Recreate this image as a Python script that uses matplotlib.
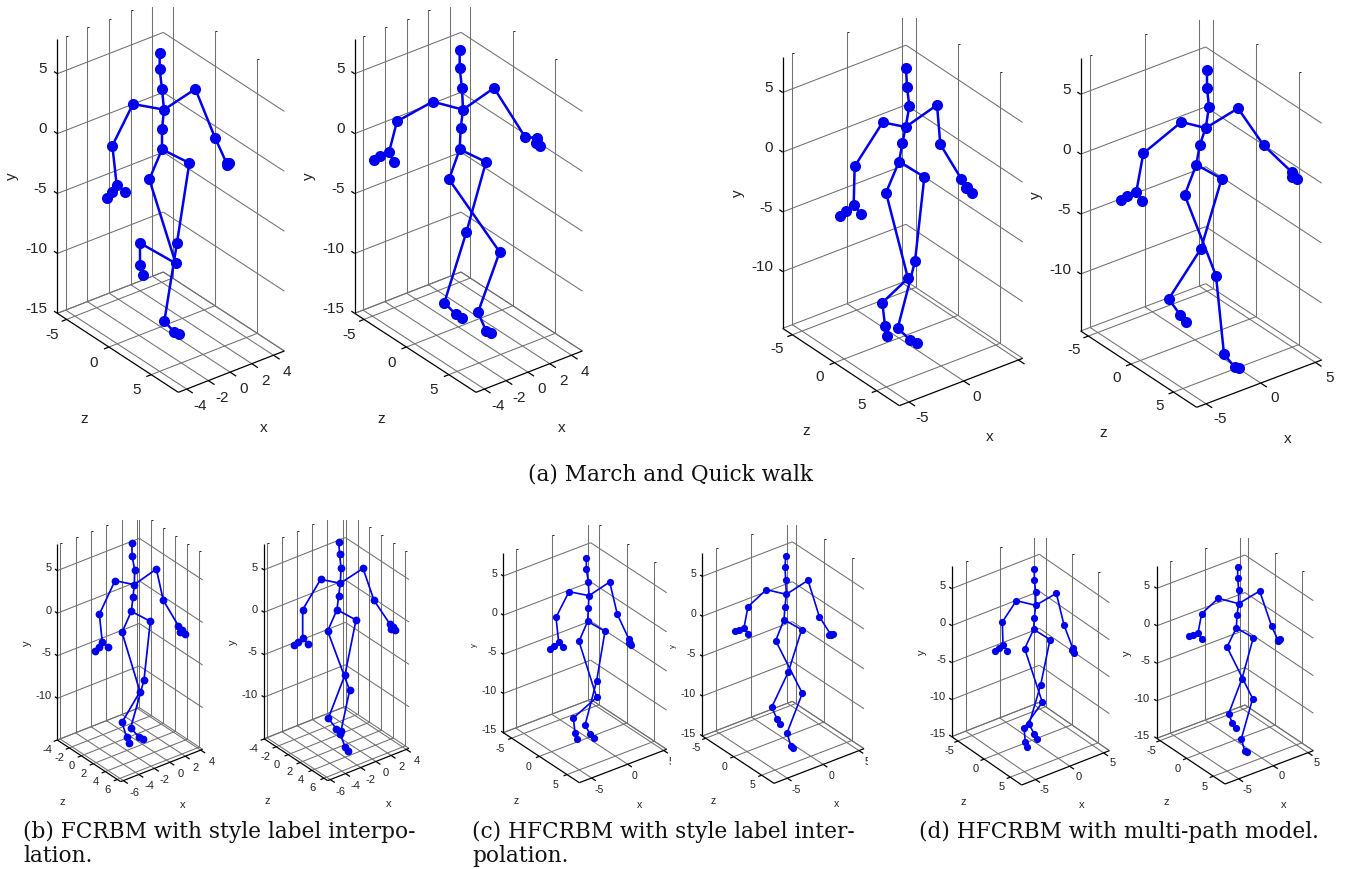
import matplotlib
matplotlib.use("Agg")
import matplotlib.pyplot as plt

plt.rcParams["font.family"] = ["Liberation Sans", "DejaVu Sans"]

W, H = 1348, 869

# skeleton joints, in 3x crop units of each panel
# head 3, chest, spine, pelvis, left arm 6, right arm 6, left leg 5, right leg 5
sk1_x = [479,479,486,492,486,486, 399,337,350,337,322,375, 586,645,680,687,680,684, 448,527,420,420,430, 568,531,493,522,538]
sk1_y = [159,208,267,329,388,448, 312,437,554,576,593,575, 267,413,490,488,496,492, 538,790,729,795,825, 489,728,964,995,1002]
sk2_x = [479,479,486,489,482,479, 398,291,267,241,221,281, 582,676,711,709,719,712, 447,599,534,558,572, 558,499,433,467,485]
sk2_y = [149,205,264,329,385,448, 305,364,457,467,479,486, 264,412,413,430,437,425, 538,756,937,992,998, 486,697,908,943,955]
sk3_x = [558,561,568,557,547,537, 488,404,401,377,360,423, 651,661,724,741,755,737, 498,564,487,495,502, 613,585,533,571,590]
sk3_y = [205,260,319,381,430,485, 367,499,616,634,648,641, 315,433,537,560,578,565, 578,835,908,977,1009, 531,784,985,1020,1030]
sk4_x = [561,561,567,557,539,529, 484,370,349,321,303,367, 654,731,815,820,831,815, 494,588,612,645,658, 605,543,446,481,498]
sk4_y = [210,263,321,384,436,494, 366,460,575,588,600,602, 325,436,516,525,537,530, 585,827,1063,1102,1105, 536,746,897,945,967]
sk5_x = [396,396,404,403,399,394, 345,298,307,296,284,323, 469,490,535,545,555,540, 366,420,366,380,388, 451,432,392,416,430]
sk5_y = [99,137,179,224,261,304, 212,313,397,411,423,412, 177,271,347,360,372,365, 367,545,637,682,698, 334,510,654,680,688]
sk6_x = [371,374,378,376,371,366, 317,263,263,249,237,278, 444,477,524,535,541,529, 338,404,376,390,399, 423,390,340,364,377]
sk6_y = [95,133,175,220,257,299, 208,299,384,395,405,401, 175,271,341,352,360,357, 363,541,672,711,722, 330,494,625,656,664]
sk7_x = [409,409,415,417,415,413, 357,318,326,313,301,340, 479,502,536,540,544,538, 387,440,370,375,381, 465,440,405,421,433]
sk7_y = [144,177,216,257,295,334, 245,322,396,407,417,412, 216,313,386,398,406,400, 394,562,624,668,687, 364,512,646,673,685]
sk8_x = [362,360,362,364,360,357, 304,249,237,222,209,249, 429,463,497,503,492,498, 332,412,366,378,385, 410,370,320,336,346]
sk8_y = [139,172,211,253,290,329, 239,290,353,360,364,371, 211,320,373,373,375,374, 392,550,669,709,714, 359,486,592,626,641]
sk9_x = [403,403,407,407,403,401, 349,307,309,296,285,322, 469,492,518,518,522,516, 374,427,372,376,381, 450,422,387,403,411]
sk9_y = [177,210,245,286,323,358, 272,336,405,414,424,422, 250,345,414,424,430,420, 416,577,654,696,710, 389,525,643,672,686]
sk10_x = [383,383,386,386,381,379, 325,275,264,248,237,275, 449,485,504,510,503,508, 351,428,394,404,410, 430,396,356,367,377]
sk10_y = [170,204,239,281,316,354, 265,311,369,376,378,387, 243,349,390,388,392,391, 411,566,686,722,726, 383,506,611,640,655]

bones = [[0,1,2,3,4,5], [3,6,7,8,9,10], [8,11], [3,12,13,14,15,16], [14,17],
         [5,18,19,20,21,22], [5,23,24,25,26,27]]

# axis ticks
ticks_five = [-5, 0, 5]
ticks_two = [-4, -2, 0, 2, 4]
ticks_two_wide = [-6, -4, -2, 0, 2, 4]
ticks_z_wide = [-4, -2, 0, 2, 4, 6]
ticks_y_all = [-15, -10, -5, 0, 5]
ticks_y_short = [-10, -5, 0, 5]

panels = [
    dict(sk=(sk1_x, sk1_y), ox=0, oy=0, wd=990, ht=1350, clip=20, L=(172,940), top=117, F=(535,1177), R=(853,1053),
         xlim=(-4.77,5.0), zlim=(-6.1,8.2), ylim=(-15,7.9), xt=ticks_two, zt=ticks_five, yt=ticks_y_all, xshow=ticks_two,
         zoff=(-45,47), xoff=(40,51), yoff=(-30,-13), ylab=(35,530), zlab=(252,1258), xlab=(792,1285), fs=11, lfs=11, yfs=11, ms=8, lw=1.8),
    dict(sk=(sk2_x, sk2_y), ox=300, oy=0, wd=990, ht=1350, clip=20, L=(164,940), top=117, F=(528,1177), R=(847,1053),
         xlim=(-4.77,5.0), zlim=(-6.1,8.2), ylim=(-15,7.9), xt=ticks_two, zt=ticks_five, yt=ticks_y_all, xshow=ticks_two,
         zoff=(-45,47), xoff=(40,51), yoff=(-30,-13), ylab=(27,530), zlab=(245,1258), xlab=(785,1285), fs=11, lfs=11, yfs=11, ms=8, lw=1.8),
    dict(sk=(sk3_x, sk3_y), ox=720, oy=0, wd=990, ht=1350, clip=55, L=(188,985), top=170, F=(538,1217), R=(908,1075),
         xlim=(-5.88,5.39), zlim=(-6.15,7.68), ylim=(-14.75,8.0), xt=ticks_five, zt=ticks_five, yt=ticks_y_short, xshow=[-5,0],
         zoff=(-46,42), xoff=(40,47), yoff=(-28,-13), ylab=(55,580), zlab=(258,1292), xlab=(808,1312), fs=11, lfs=11, yfs=11, ms=8, lw=1.8),
    dict(sk=(sk4_x, sk4_y), ox=1020, oy=0, wd=984, ht=1350, clip=60, L=(182,993), top=175, F=(530,1222), R=(905,1080),
         xlim=(-5.86,5.58), zlim=(-5.9,7.72), ylim=(-14.76,8.0), xt=ticks_five, zt=ticks_five, yt=ticks_y_short, xshow=ticks_five,
         zoff=(-43,43), xoff=(42,46), yoff=(-28,-13), ylab=(47,585), zlab=(250,1298), xlab=(802,1318), fs=11, lfs=11, yfs=11, ms=8, lw=1.8),
    dict(sk=(sk5_x, sk5_y), ox=0, oy=510, wd=675, ht=930, clip=30, L=(172,690), top=103, F=(362,815), R=(608,718),
         xlim=(-6.35,4.25), zlim=(-4.0,6.56), ylim=(-14.9,8.09), xt=ticks_two_wide, zt=ticks_z_wide, yt=ticks_y_short, xshow=ticks_two_wide,
         zoff=(-30,31), xoff=(32,36), yoff=(-17,-7), ylab=(80,400), zlab=(187,877), xlab=(548,885), fs=8, lfs=8, yfs=8, ms=5.6, lw=1.25),
    dict(sk=(sk6_x, sk6_y), ox=215, oy=510, wd=675, ht=930, clip=30, L=(147,686), top=101, F=(338,812), R=(582,715),
         xlim=(-6.35,4.35), zlim=(-4.05,6.62), ylim=(-14.9,8.09), xt=ticks_two_wide, zt=ticks_z_wide, yt=ticks_y_short, xshow=ticks_two_wide,
         zoff=(-33,30), xoff=(30,36), yoff=(-19,-7), ylab=(55,398), zlab=(157,873), xlab=(520,882), fs=8, lfs=8, yfs=8, ms=5.6, lw=1.25),
    dict(sk=(sk7_x, sk7_y), ox=450, oy=510, wd=664, ht=930, clip=45, L=(160,668), top=130, F=(388,818), R=(650,718),
         xlim=(-6.7,5.41), zlim=(-6.51,7.23), ylim=(-15,7.9), xt=ticks_five, zt=ticks_five, yt=ticks_y_all, xshow=ticks_five,
         zoff=(-33,32), xoff=(22,35), yoff=(-19,-7), ylab=(72,405), zlab=(198,873), xlab=(568,885), fs=7.6, lfs=7.6, yfs=5.5, ms=5.2, lw=1.2),
    dict(sk=(sk8_x, sk8_y), ox=665, oy=510, wd=610, ht=930, clip=45, L=(112,678), top=130, F=(327,820), R=(597,716),
         xlim=(-6.86,5.70), zlim=(-5.6,7.2), ylim=(-15,7.9), xt=ticks_five, zt=ticks_five, yt=ticks_y_all, xshow=ticks_five,
         zoff=(-29,30), xoff=(26,34), yoff=(-19,-7), ylab=(25,408), zlab=(146,873), xlab=(513,882), fs=7.6, lfs=7.6, yfs=5.5, ms=5.2, lw=1.2),
    dict(sk=(sk9_x, sk9_y), ox=900, oy=510, wd=675, ht=930, clip=85, L=(155,680), top=168, F=(365,825), R=(628,722),
         xlim=(-7.06,5.84), zlim=(-6.2,7.17), ylim=(-15,8.06), xt=ticks_five, zt=ticks_five, yt=ticks_y_all, xshow=ticks_five,
         zoff=(-26,30), xoff=(27,31), yoff=(-17,-7), ylab=(65,428), zlab=(191,877), xlab=(545,885), fs=8, lfs=8, yfs=8, ms=5.2, lw=1.2),
    dict(sk=(sk10_x, sk10_y), ox=1110, oy=510, wd=675, ht=930, clip=85, L=(140,685), top=168, F=(345,822), R=(610,722),
         xlim=(-6.97,5.76), zlim=(-5.63,7.19), ylim=(-15,7.98), xt=ticks_five, zt=ticks_five, yt=ticks_y_all, xshow=ticks_five,
         zoff=(-27,31), xoff=(25,32), yoff=(-20,-7), ylab=(52,430), zlab=(170,877), xlab=(520,885), fs=8, lfs=8, yfs=8, ms=5.2, lw=1.2),
]

fig = plt.figure(figsize=(W / 100, H / 100), dpi=100)
fig.patch.set_facecolor("white")

grid_col = "#707070"
text_col = "#222222"


def draw_panel(p):
    left = p["ox"] / W
    bottom = 1 - (p["oy"] + p["ht"] / 3) / H
    height = (p["ht"] - p["clip"]) / 3 / H
    ax = fig.add_axes([left, bottom, p["wd"] / 3 / W, height])
    ax.set_xlim(0, p["wd"])
    ax.set_ylim(p["ht"], p["clip"])
    ax.axis("off")
    ax.patch.set_alpha(0)

    Lx, Ly = p["L"]
    Fx, Fy = p["F"]
    Rx, Ry = p["R"]
    zvec = (Fx - Lx, Fy - Ly)
    xvec = (Rx - Fx, Ry - Fy)
    xlo, xhi = p["xlim"]
    zlo, zhi = p["zlim"]
    ylo, yhi = p["ylim"]
    tall = Ly - p["top"]

    def proj(x, y, z):
        fx = (x - xlo) / (xhi - xlo)
        fz = (z - zlo) / (zhi - zlo)
        fy = (y - ylo) / (yhi - ylo)
        return Lx + fx * xvec[0] + fz * zvec[0], Ly + fx * xvec[1] + fz * zvec[1] - fy * tall

    def seg(a, b, **kw):
        ax.plot([a[0], b[0]], [a[1], b[1]], solid_capstyle="butt", **kw)

    thin = dict(color=grid_col, lw=0.75, zorder=1)
    # walls and floor
    for y in p["yt"]:
        seg(proj(xlo, y, zlo), proj(xhi, y, zlo), **thin)
        seg(proj(xhi, y, zlo), proj(xhi, y, zhi), **thin)
    seg(proj(xlo, ylo, zlo), proj(xhi, ylo, zlo), **thin)
    seg(proj(xhi, ylo, zlo), proj(xhi, ylo, zhi), **thin)
    for x in p["xt"]:
        seg(proj(x, ylo, zlo), proj(x, yhi, zlo), **thin)
        seg(proj(x, ylo, zlo), proj(x, ylo, zhi), **thin)
        t = proj(x, yhi, zlo)
        seg(t, (t[0] + 6, t[1]), color="black", lw=0.6, zorder=1)
    for z in p["zt"]:
        seg(proj(xhi, ylo, z), proj(xhi, yhi, z), **thin)
        seg(proj(xlo, ylo, z), proj(xhi, ylo, z), **thin)
        t = proj(xhi, yhi, z)
        seg(t, (t[0] + 6, t[1]), color="black", lw=0.6, zorder=1)

    # black axes
    dark = dict(color="black", lw=0.9, zorder=2)
    seg((Lx, Ly), (Lx, p["top"]), **dark)
    seg((Lx, Ly), (Fx, Fy), **dark)
    seg((Fx, Fy), (Rx, Ry), **dark)

    zlen = (zvec[0] ** 2 + zvec[1] ** 2) ** 0.5
    xlen = (xvec[0] ** 2 + xvec[1] ** 2) ** 0.5
    scale = p["fs"] / 11
    txt = dict(color=text_col, ha="center", va="center", clip_on=True)
    for y in p["yt"]:
        a = proj(xlo, y, zlo)
        seg(a, (a[0] - 12 * scale * zvec[0] / zlen, a[1] - 12 * scale * zvec[1] / zlen), **dark)
        ax.text(a[0] + p["yoff"][0], a[1] + p["yoff"][1], str(y), fontsize=p["fs"], color=text_col, ha="right", va="center")
    for z in p["zt"]:
        a = proj(xlo, ylo, z)
        seg(a, (a[0] - 16 * scale * xvec[0] / xlen, a[1] - 16 * scale * xvec[1] / xlen), **dark)
        ax.text(a[0] + p["zoff"][0], a[1] + p["zoff"][1], str(z), fontsize=p["fs"], **txt)
    for x in p["xt"]:
        a = proj(x, ylo, zhi)
        seg(a, (a[0] + 22 * scale * zvec[0] / zlen, a[1] + 22 * scale * zvec[1] / zlen), **dark)
        if x in p["xshow"]:
            ax.text(a[0] + p["xoff"][0], a[1] + p["xoff"][1], str(x), fontsize=p["fs"], **txt)

    ax.text(p["ylab"][0], p["ylab"][1], "y", fontsize=p["yfs"], rotation=90, **txt)
    ax.text(p["zlab"][0], p["zlab"][1], "z", fontsize=p["lfs"], **txt)
    ax.text(p["xlab"][0], p["xlab"][1], "x", fontsize=p["lfs"], **txt)

    # skeleton
    sx, sy = p["sk"]
    for chain in bones:
        ax.plot([sx[i] for i in chain], [sy[i] for i in chain], color="#0000ee", lw=p["lw"],
                solid_capstyle="round", zorder=5)
    ax.plot(sx, sy, "o", color="#0000ee", ms=p["ms"], mew=0, zorder=6)


for p in panels:
    draw_panel(p)

cap = dict(family="DejaVu Serif", fontsize=15.6, color="#111111", va="center")
fig.text(671 / W, 1 - 475 / H, "(a) March and Quick walk", ha="center", **cap)
fig.text(23 / W, 1 - 832 / H, "(b) FCRBM with style label interpo-", ha="left", **cap)
fig.text(23 / W, 1 - 856 / H, "lation.", ha="left", **cap)
fig.text(472 / W, 1 - 832 / H, "(c) HFCRBM with style label inter-", ha="left", **cap)
fig.text(472 / W, 1 - 856 / H, "polation.", ha="left", **cap)
fig.text(919 / W, 1 - 832 / H, "(d) HFCRBM with multi-path model.", ha="left", **cap)

fig.savefig("out.png", dpi=100)
